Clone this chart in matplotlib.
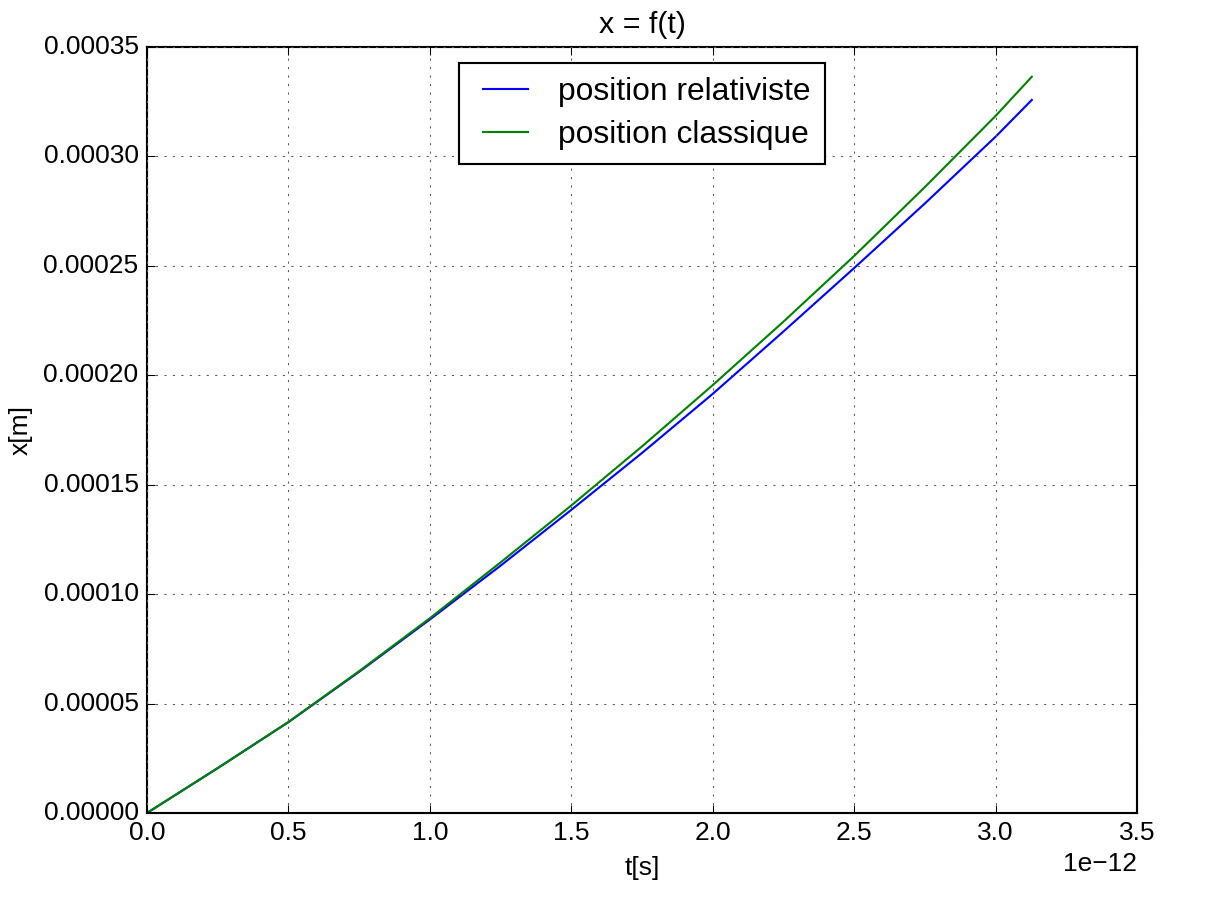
import numpy as np
import matplotlib
matplotlib.use('Agg')
import matplotlib.pyplot as plt

plt.style.use('classic')
plt.rcParams['font.family'] = ['Liberation Sans', 'DejaVu Sans']

# time in units of 1e-12 s, positions in units of 1e-4 m
t_ps = [0.0, 0.25, 0.5, 0.75, 1.0, 1.25, 1.5, 1.75, 2.0, 2.25, 2.5, 2.75, 3.0, 3.128]
x_rel = [0.0, 0.205, 0.415, 0.645, 0.884, 1.13, 1.385, 1.645, 1.915, 2.20, 2.49, 2.785, 3.09, 3.258]
x_cla = [0.0, 0.205, 0.416, 0.648, 0.890, 1.145, 1.405, 1.675, 1.955, 2.245, 2.545, 2.86, 3.185, 3.364]

t = np.array(t_ps) * 1e-12
x1 = np.array(x_rel) * 1e-4
x2 = np.array(x_cla) * 1e-4

fig = plt.figure(figsize=(1218 / 152.25, 904 / 152.25), dpi=152.25)
fig.subplots_adjust(left=0.1207, right=0.9335, bottom=0.1007, top=0.948)
ax = fig.add_subplot(111)

ax.plot(t, x1, color='b', lw=1.0, label='position relativiste')
ax.plot(t, x2, color='g', lw=1.0, label='position classique')

ax.set_xlim(0, 3.5e-12)
ax.set_ylim(0, 0.00035)
ax.tick_params(labelsize=12.5)
ax.set_title('x = f(t)', fontsize=14.4, y=1.005)
ax.set_xlabel('t[s]', fontsize=12.5)
ax.set_ylabel('x[m]', fontsize=12.5)
ax.xaxis.get_offset_text().set_fontsize(12.5)
ax.grid(True, color='0.35')
ax.legend(loc='upper center', fontsize=15, handlelength=2.0,
          handletextpad=0.65, labelspacing=0.4, borderpad=0.45)

fig.savefig('out.png', dpi=152.25)
